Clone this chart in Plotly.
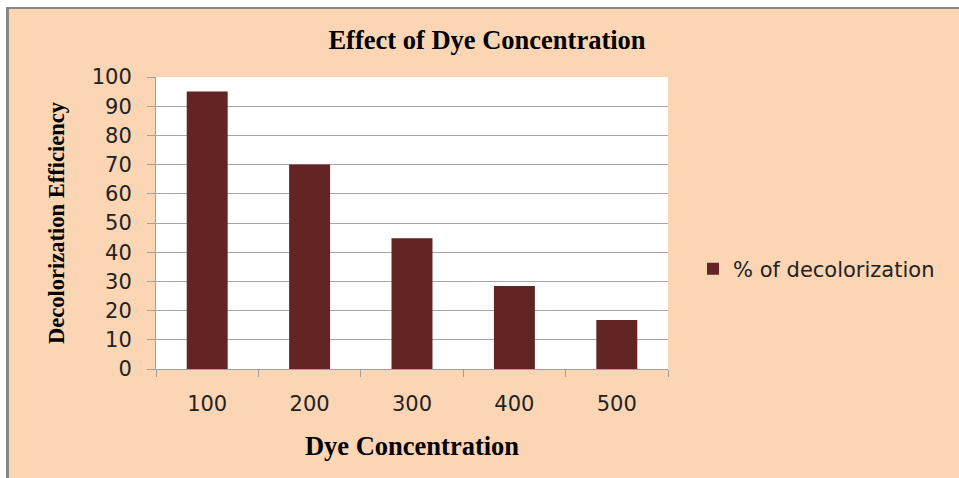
import plotly.graph_objects as go

categories = ["100", "200", "300", "400", "500"]
decolorization = [95, 70, 44.8, 28.4, 16.8]
y_ticks = [0, 10, 20, 30, 40, 50, 60, 70, 80, 90, 100]

W, H = 959, 478
L, R, T, B = 156, 668, 77, 369

def px(x):
    return (x - L) / (R - L)

def py(y):
    return (B - y) / (B - T)

fig = go.Figure()
fig.add_trace(go.Bar(
    x=categories, y=decolorization, name="% of decolorization",
    marker=dict(color="#632523", line=dict(width=0)),
))

serif = "Liberation Serif, Times New Roman, serif"
sans = "DejaVu Sans, Verdana, sans-serif"

shapes = [
    dict(type="rect", xref="paper", yref="paper", x0=px(0), x1=px(W), y0=py(0), y1=py(7),
         fillcolor="white", line=dict(width=0), layer="above"),
    dict(type="rect", xref="paper", yref="paper", x0=px(0), x1=px(6), y0=py(0), y1=py(H),
         fillcolor="white", line=dict(width=0), layer="above"),
    dict(type="rect", xref="paper", yref="paper", x0=px(6), x1=px(W), y0=py(7), y1=py(9),
         fillcolor="#868686", line=dict(width=0), layer="above"),
    dict(type="rect", xref="paper", yref="paper", x0=px(6), x1=px(9), y0=py(7), y1=py(H),
         fillcolor="#868686", line=dict(width=0), layer="above"),
]

fig.update_layout(
    width=W, height=H,
    margin=dict(l=L, r=W - R, t=T, b=H - B, pad=0),
    paper_bgcolor="#FCD5B5",
    plot_bgcolor="white",
    bargap=0.6,
    showlegend=True,
    shapes=shapes,
    title=dict(text="<b>Effect of Dye Concentration</b>", x=487 / W, xanchor="center",
               y=1 - 40 / H, yanchor="middle", font=dict(family=serif, size=26.5, color="black")),
    legend=dict(x=px(693), y=py(269), xanchor="left", yanchor="middle",
                font=dict(family=sans, size=21, color="#222222"),
                bgcolor="rgba(0,0,0,0)", borderwidth=0),
    xaxis=dict(
        type="category",
        showline=True, linecolor="#A0A0A0", linewidth=1,
        ticks="outside", tickson="boundaries", ticklen=7, tickcolor="#A0A0A0",
        tickfont=dict(family=sans, size=21, color="#222222"),
        ticklabelstandoff=16,
        title=dict(text="<b>Dye Concentration</b>", standoff=21,
                   font=dict(family=serif, size=26.5, color="black")),
        showgrid=False, fixedrange=True,
    ),
    yaxis=dict(
        range=[0, 100], tickvals=y_ticks,
        showline=True, linecolor="#A0A0A0", linewidth=1,
        ticks="outside", ticklen=8, tickcolor="#A0A0A0",
        tickfont=dict(family=sans, size=21, color="#222222"),
        ticklabelstandoff=11,
        showgrid=True, gridcolor="#A6A6A6", gridwidth=1,
        zeroline=False,
        title=dict(text="<b>Decolorization Efficiency</b>", standoff=20,
                   font=dict(family=serif, size=22.5, color="black")),
        fixedrange=True,
    ),
)

fig.write_html(
    "out.html",
    config={"displayModeBar": False},
    post_script="document.body.style.margin='0';document.body.style.overflow='hidden';",
)
